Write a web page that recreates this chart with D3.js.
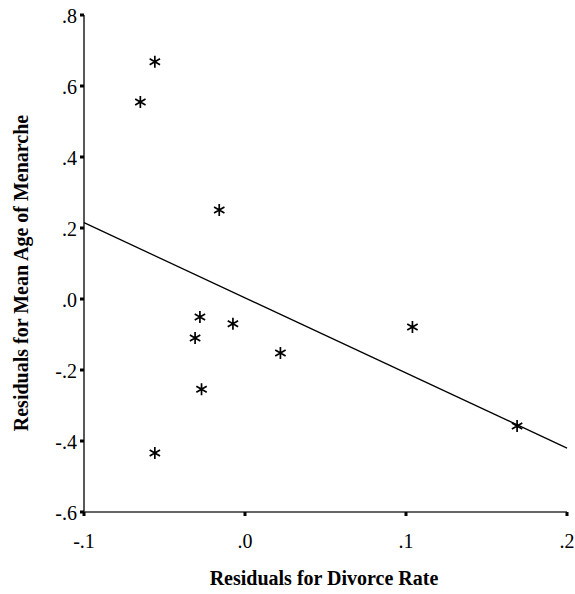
<!DOCTYPE html>
<html>
<head>
<meta charset="utf-8">
<script src="https://cdn.jsdelivr.net/npm/d3@7"></script>
<style>
  html, body { margin: 0; padding: 0; background: #fff; }
  svg { display: block; }
</style>
</head>
<body>
<svg id="chart" width="575" height="594"></svg>
<script>
// Data
const divorceResid = [-0.056, -0.065, -0.016, -0.028, -0.031, -0.0075, 0.022, -0.027, -0.056, 0.104, 0.169];
const menarcheResid = [0.668, 0.555, 0.251, -0.051, -0.110, -0.070, -0.152, -0.254, -0.434, -0.079, -0.358];
const fitLineX = [-0.1, 0.2];
const fitLineY = [0.215, -0.42];
const xTicks = [-0.1, 0.0, 0.1, 0.2];
const xTickLabels = ["-.1", ".0", ".1", ".2"];
const yTicks = [0.8, 0.6, 0.4, 0.2, 0.0, -0.2, -0.4, -0.6];
const yTickLabels = [".8", ".6", ".4", ".2", ".0", "-.2", "-.4", "-.6"];
const xTitle = "Residuals for Divorce Rate";
const yTitle = "Residuals for Mean Age of Menarche";

(function () {
const svg = d3.select("#chart");
const pLeft = 84, pRight = 567, pTop = 15, pBottom = 512;

const x = d3.scaleLinear().domain([-0.1, 0.2]).range([pLeft, pRight]);
const y = d3.scaleLinear().domain([-0.6, 0.8]).range([pBottom, pTop]);

const font = "'Liberation Serif', 'Times New Roman', serif";

// Axis lines
svg.append("line").attr("x1", pLeft).attr("x2", pLeft).attr("y1", pTop).attr("y2", pBottom)
  .attr("stroke", "#222").attr("stroke-width", 1.5);
svg.append("line").attr("x1", pLeft).attr("x2", pRight).attr("y1", pBottom).attr("y2", pBottom)
  .attr("stroke", "#333").attr("stroke-width", 1.5);

// Y ticks
const yg = svg.append("g");
yTicks.forEach((t, i) => {
  yg.append("rect").attr("x", pLeft - 4).attr("y", y(t) - 1.5).attr("width", 4).attr("height", 3).attr("fill", "#000");
  yg.append("text").attr("x", pLeft - 7).attr("y", y(t) + 3)
    .attr("text-anchor", "end").attr("dominant-baseline", "middle")
    .attr("font-family", font).attr("font-size", 20).attr("fill", "#000")
    .text(yTickLabels[i]);
});

// X ticks
const xg = svg.append("g");
xTicks.forEach((t, i) => {
  xg.append("rect").attr("x", x(t) - 1.5).attr("y", pBottom).attr("width", 3).attr("height", 4).attr("fill", "#000");
  xg.append("text").attr("x", x(t)).attr("y", pBottom + 36)
    .attr("text-anchor", "middle")
    .attr("font-family", font).attr("font-size", 20).attr("fill", "#000")
    .text(xTickLabels[i]);
});

// Fit line
svg.append("line")
  .attr("x1", x(fitLineX[0])).attr("y1", y(fitLineY[0]))
  .attr("x2", x(fitLineX[1])).attr("y2", y(fitLineY[1]))
  .attr("stroke", "#000").attr("stroke-width", 1.3);

// Asterisk markers
const r = 6;
const star = (cx, cy) => {
  const a = [90, 30, 150].map(d => d * Math.PI / 180);
  return a.map(t => `M${cx - r * Math.cos(t)},${cy - r * Math.sin(t)}L${cx + r * Math.cos(t)},${cy + r * Math.sin(t)}`).join("");
};
svg.append("g").selectAll("path").data(divorceResid.map((d, i) => [d, menarcheResid[i]]))
  .join("path")
  .attr("d", d => star(x(d[0]), y(d[1])))
  .attr("stroke", "#000").attr("stroke-width", 1.7).attr("fill", "none");

// Titles
svg.append("text").attr("x", 324).attr("y", 585).attr("text-anchor", "middle")
  .attr("font-family", font).attr("font-size", 20).attr("font-weight", "bold").text(xTitle);
svg.append("text").attr("transform", "translate(28,273) rotate(-90)").attr("text-anchor", "middle")
  .attr("font-family", font).attr("font-size", 20).attr("font-weight", "bold").text(yTitle);
})();
</script>
</body>
</html>
